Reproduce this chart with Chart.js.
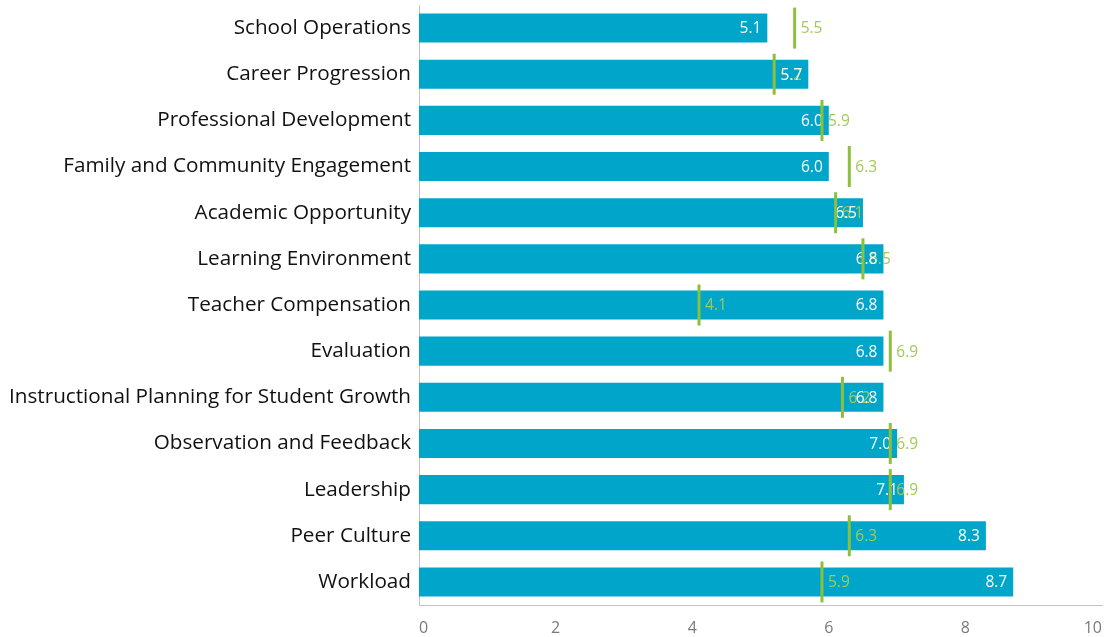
<!DOCTYPE html>
<html>
<head>
<meta charset="utf-8">
<script src="https://cdn.jsdelivr.net/npm/chart.js@4"></script>
<style>
  body { margin: 0; background: #fff; }
</style>
</head>
<body>
<canvas id="scoreChart" width="1114" height="637"></canvas>
<script>
const categories = [
  "School Operations",
  "Career Progression",
  "Professional Development",
  "Family and Community Engagement",
  "Academic Opportunity",
  "Learning Environment",
  "Teacher Compensation",
  "Evaluation",
  "Instructional Planning for Student Growth",
  "Observation and Feedback",
  "Leadership",
  "Peer Culture",
  "Workload"
];
const schoolScores = [5.1, 5.7, 6.0, 6.0, 6.5, 6.8, 6.8, 6.8, 6.8, 7.0, 7.1, 8.3, 8.7];
const benchmarkScores = [5.5, 5.2, 5.9, 6.3, 6.1, 6.5, 4.1, 6.9, 6.2, 6.9, 6.9, 6.3, 5.9];
const xTicks = [0, 2, 4, 6, 8, 10];

const barColor = "#00a6c9";
const markColor = "#8cc03c";
const markLabelColor = "#a2ca58";

// labels go under the marker lines, so draw them just before the marker dataset
const valueLabels = {
  id: "valueLabels",
  beforeDatasetDraw(chart, args) {
    if (args.index !== 1) return;
    const c = chart.ctx;
    c.save();
    c.font = "15.5px 'Open Sans'";
    c.textBaseline = "middle";
    const marks = chart.getDatasetMeta(1).data;
    c.fillStyle = markLabelColor;
    c.textAlign = "left";
    marks.forEach((pt, i) => {
      c.fillText(benchmarkScores[i].toFixed(1), pt.x + 6, pt.y + 1);
    });
    const bars = chart.getDatasetMeta(0).data;
    c.fillStyle = "#ffffff";
    c.textAlign = "right";
    bars.forEach((bar, i) => {
      c.fillText(schoolScores[i].toFixed(1), bar.x - 6, bar.y + 1);
    });
    c.restore();
  }
};

const ctx = document.getElementById("scoreChart").getContext("2d");

new Chart(ctx, {
  type: "bar",
  data: {
    labels: categories,
    datasets: [
      {
        label: "School",
        data: schoolScores,
        backgroundColor: barColor,
        barPercentage: 0.63,
        categoryPercentage: 1.0,
        order: 2
      },
      {
        type: "line",
        label: "Benchmark",
        data: benchmarkScores,
        showLine: false,
        pointStyle: "line",
        rotation: 90,
        pointRadius: 20.5,
        pointHoverRadius: 20.5,
        pointBorderWidth: 3,
        borderColor: markColor,
        backgroundColor: markColor,
        clip: false,
        order: 1
      }
    ]
  },
  options: {
    indexAxis: "y",
    responsive: false,
    animation: false,
    layout: { autoPadding: false, padding: { left: 9, right: 12, top: 5, bottom: 0 } },
    plugins: {
      legend: { display: false },
      tooltip: { enabled: false }
    },
    scales: {
      x: {
        min: 0,
        max: 10,
        afterBuildTicks: axis => { axis.ticks = xTicks.map(v => ({ value: v })); },
        afterFit: axis => { axis.paddingLeft = 0; axis.paddingRight = 0; axis.height = 32; },
        grid: { display: false },
        border: { display: true, color: "#c4c4c4", width: 1 },
        ticks: {
          align: "inner",
          color: "#7a7a7a",
          padding: 6,
          font: { family: "'Open Sans'", size: 16 }
        }
      },
      y: {
        afterFit: axis => { axis.paddingTop = 0; axis.paddingBottom = 0; },
        grid: { display: false },
        border: { display: true, color: "#c4c4c4", width: 1 },
        ticks: {
          color: "#111111",
          padding: 0,
          font: { family: "'Open Sans'", size: 20.7 }
        }
      }
    }
  },
  plugins: [valueLabels]
});
</script>
</body>
</html>
